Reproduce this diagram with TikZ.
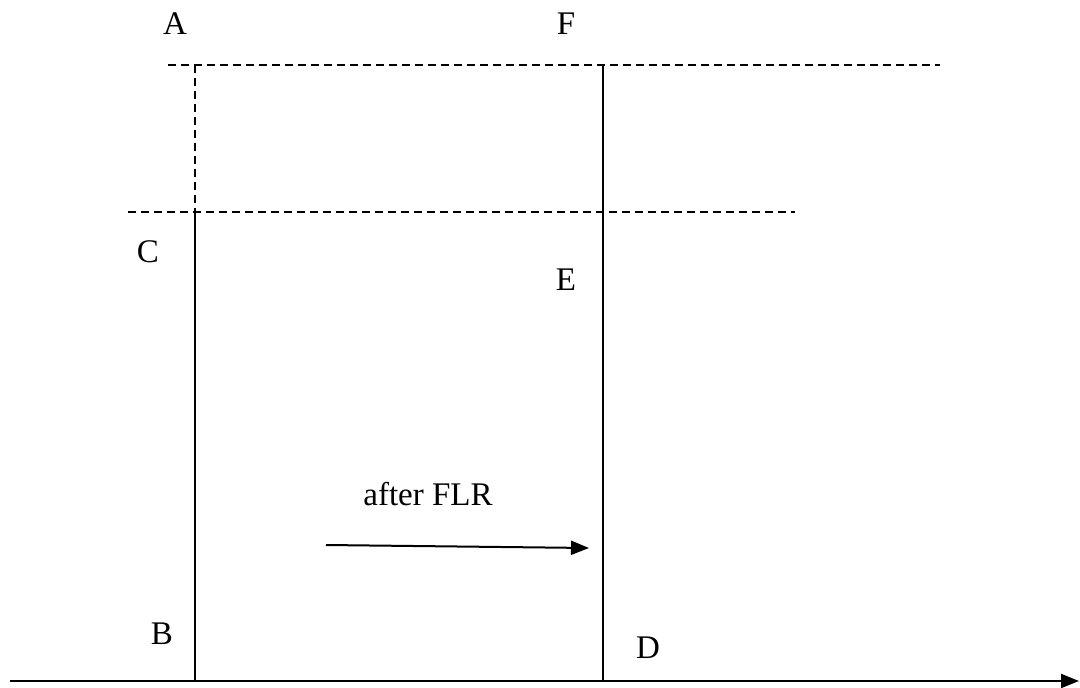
\documentclass[tikz,border=0pt]{standalone}
\usepackage{fontspec}
\setmainfont{Liberation Serif}
\usetikzlibrary{arrows.meta}
\begin{document}
\begin{tikzpicture}[x=1pt,y=-1pt,
  solidline/.style={line width=2pt},
  dashline/.style={line width=2pt, dash pattern=on 8pt off 5pt},
  lbl/.style={font=\fontsize{33}{38}\selectfont, inner sep=0pt},
  arr/.style={line width=2pt,-{Triangle[length=18pt,width=14pt]}}]
\useasboundingbox (0,0) rectangle (1080,688);
% coordinates
\coordinate (O) at (10,681);
\coordinate (Xend) at (1079,681);
\coordinate (Atop) at (195,65);
\coordinate (Cmid) at (195,212);
\coordinate (Bbot) at (195,681);
\coordinate (Ftop) at (603,65);
\coordinate (Dbot) at (603,681);
\coordinate (D1l) at (168,65);
\coordinate (D1r) at (940,65);
\coordinate (D2l) at (128,212);
\coordinate (D2r) at (795,212);
\coordinate (Fs) at (326,545);
\coordinate (Fe) at (589,548);
% lines
\draw[arr] (O) -- (Xend);
\draw[dashline] (D1l) -- (D1r);
\draw[dashline] (D2l) -- (D2r);
\draw[dashline] (Atop) -- (Cmid);
\draw[solidline] (Cmid) -- (Bbot);
\draw[solidline] (Ftop) -- (Dbot);
\draw[arr] (Fs) -- (Fe);
% labels
\node[lbl] (A) at (175,24) {A};
\node[lbl] (F) at (566,24) {F};
\node[lbl] (C) at (148,252) {C};
\node[lbl] (E) at (566,280) {E};
\node[lbl] (B) at (162,634) {B};
\node[lbl] (D) at (648,648) {D};
\node[lbl] (FLR) at (428,494) {after FLR};
\end{tikzpicture}
\end{document}
